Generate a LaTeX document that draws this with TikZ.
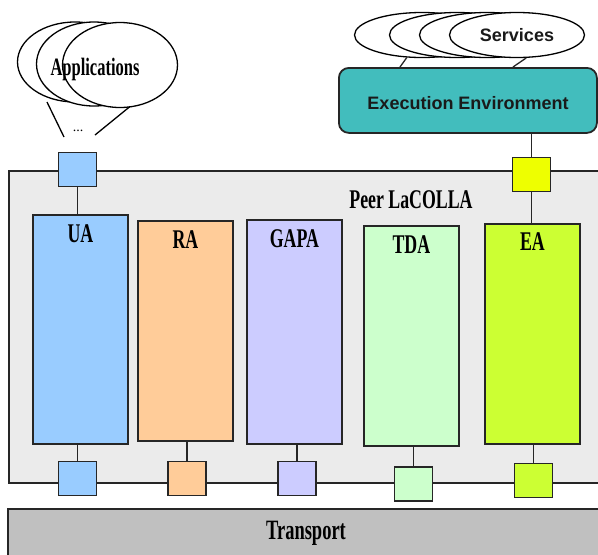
\documentclass[tikz,border=0pt]{standalone}
\usepackage{fontspec}
\setmainfont{Liberation Serif}
\newfontfamily\narrowserif[FakeStretch=0.66]{Liberation Serif}
\newfontfamily\labelsans{Liberation Sans}
\usetikzlibrary{shapes.geometric}

\definecolor{peergray}{HTML}{EBEBEB}
\definecolor{transgray}{HTML}{C0C0C0}
\definecolor{uacol}{HTML}{99CCFF}
\definecolor{racol}{HTML}{FFCC99}
\definecolor{gapacol}{HTML}{CCCCFF}
\definecolor{tdacol}{HTML}{CCFFCC}
\definecolor{eacol}{HTML}{CCFF33}
\definecolor{eaport}{HTML}{EEFF00}
\definecolor{eecol}{HTML}{42BDBD}
\definecolor{darktext}{HTML}{1A1A1A}

\tikzset{
  frame/.style={draw=black!85, line width=1.8pt},
  agentbox/.style={frame, anchor=north west, minimum width=95pt, inner sep=0pt},
  port/.style={frame, minimum width=38pt, minimum height=34pt, inner sep=0pt},
  wire/.style={draw=black!85, line width=1.6pt},
  agentlabel/.style={anchor=base, inner sep=0pt,
    font=\narrowserif\bfseries\fontsize{27}{30}\selectfont},
  bubble/.style={ellipse, draw=black, line width=1.3pt, fill=white, inner sep=0pt},
  sanslabel/.style={anchor=base, inner sep=0pt, text=darktext,
    font=\labelsans\bfseries\fontsize{18}{20}\selectfont}
}

\begin{document}
\begin{tikzpicture}[x=1pt, y=-1pt]
\useasboundingbox (0,0) rectangle (598,555);
\clip (0,0) rectangle (598,555);

% Transport layer
\node[frame, fill=transgray, anchor=north west, minimum width=620pt,
      minimum height=80pt, inner sep=0pt] (transport) at (7,508) {};
\node[agentlabel, font=\narrowserif\bfseries\fontsize{28}{30}\selectfont]
      (transporttext) at (306,539) {Transport};

% Peer container
\node[frame, fill=peergray, anchor=north west, minimum width=620pt,
      minimum height=312pt, inner sep=0pt] (peer) at (8,170) {};
\node[agentlabel] (peertext) at (411,208) {Peer LaCOLLA};

% Agents
\node[agentbox, fill=uacol,   minimum height=229pt] (ua)   at (32,214)  {};
\node[agentbox, fill=racol,   minimum height=220pt] (ra)   at (137,220) {};
\node[agentbox, fill=gapacol, minimum height=224pt] (gapa) at (246,219) {};
\node[agentbox, fill=tdacol,  minimum height=220pt] (tda)  at (363,225) {};
\node[agentbox, fill=eacol,   minimum height=220pt] (ea)   at (484,223) {};

\node[agentlabel] (ualabel)   at ([yshift=-28pt]ua.north)   {UA};
\node[agentlabel] (ralabel)   at ([yshift=-28pt]ra.north)   {RA};
\node[agentlabel] (gapalabel) at ([yshift=-28pt]gapa.north) {GAPA};
\node[agentlabel] (tdalabel)  at ([yshift=-28pt]tda.north)  {TDA};
\node[agentlabel] (ealabel)   at ([yshift=-27pt]ea.north)   {EA};

% Execution environment and services
\node[frame, fill=eecol, rounded corners=10pt, anchor=north west,
      minimum width=258pt, minimum height=65pt, inner sep=0pt] (ee) at (338,67) {};
\node[sanslabel] (eetext) at (468,109) {Execution Environment};

\coordinate (eeL) at (400,67);
\coordinate (eeR) at (513,67);
\node[bubble, minimum width=135pt, minimum height=45pt] (srv1) at (422,35) {};
\node[bubble, minimum width=135pt, minimum height=45pt] (srv2) at (457,35) {};
\node[bubble, minimum width=135pt, minimum height=45pt] (srv3) at (487,35) {};
\node[bubble, minimum width=135pt, minimum height=45pt] (srv4) at (517,35) {};
\node[sanslabel] (srvtext) at (517,41) {Services};
\draw[wire, line width=1.3pt] (srv1.236) -- (eeL);
\draw[wire, line width=1.3pt] (srv4.292) -- (eeR);

% Applications
\coordinate (appL) at (64,137);
\coordinate (appR) at (95,135);
\draw[line width=1.3pt] (appL) -- (47,102);
\draw[line width=1.3pt] (appR) -- (138,100);
\node[bubble, minimum width=115pt, minimum height=80pt] (app1) at (75,62) {};
\node[bubble, minimum width=115pt, minimum height=84pt] (app2) at (94,64) {};
\node[bubble, minimum width=115pt, minimum height=85pt] (app3) at (120,65) {};
\node[anchor=base, inner sep=0pt,
      font=\narrowserif\bfseries\fontsize{25}{28}\selectfont] (apptext) at (95,75) {Applications};
\node[anchor=base, inner sep=0pt, font=\fontsize{14}{16}\selectfont] (appdots) at (78,131) {...};

% Ports on the peer boundary
\node[port, fill=uacol]   (uatop)  at (77.5,169.5) {};
\node[port, fill=eaport]  (eatop)  at (531.5,174.5) {};
\node[port, fill=uacol]   (uabot)  at (77.5,478.5) {};
\node[port, fill=racol]   (rabot)  at (187,478.5) {};
\node[port, fill=gapacol] (gapabot) at (297,478.5) {};
\node[port, fill=tdacol]  (tdabot) at (413.5,484) {};
\node[port, fill=eacol]   (eabot)  at (533.5,480.5) {};

% Connectors
\draw[wire] (uatop.south) -- (uatop.south |- ua.north);
\draw[wire] (ee.south -| eatop.north) -- (eatop.north);
\draw[wire] (eatop.south) -- (eatop.south |- ea.north);
\draw[wire] (uabot.north) -- (uabot.north |- ua.south);
\draw[wire] (rabot.north) -- (rabot.north |- ra.south);
\draw[wire] (gapabot.north) -- (gapabot.north |- gapa.south);
\draw[wire] (tdabot.north) -- (tdabot.north |- tda.south);
\draw[wire] (eabot.north) -- (eabot.north |- ea.south);
\end{tikzpicture}
\end{document}
